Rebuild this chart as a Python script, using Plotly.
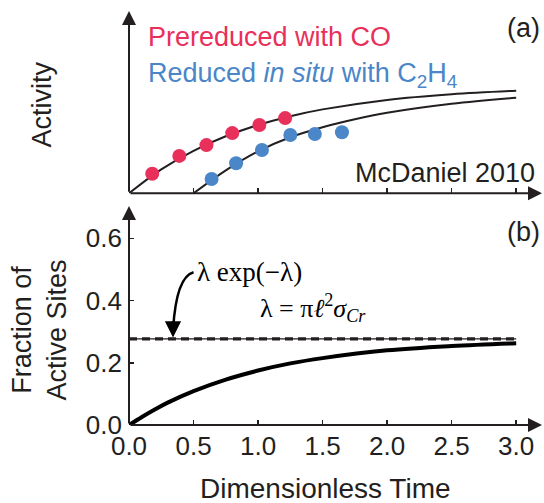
import plotly.graph_objects as go

# ---------------- data ----------------
red_x = [0.18, 0.39, 0.60, 0.80, 1.01, 1.21]
red_y = [19.5, 37.4, 48.2, 60.2, 68.3, 75.2]
blue_x = [0.64, 0.83, 1.03, 1.25, 1.44, 1.65]
blue_y = [14.3, 30.0, 43.3, 58.3, 59.3, 61.0]

upper_x = [0, 0.25, 0.5, 0.75, 1.0, 1.25, 1.5, 2.0, 2.5, 3.0]
upper_y = [0, 23.9, 42.5, 57.0, 68.3, 77.1, 83.9, 93.4, 99.1, 102.6]
lower_x = [0.5, 0.75, 1.0, 1.25, 1.5, 1.75, 2.0, 2.5, 3.0]
lower_y = [0, 23.0, 42.0, 56.0, 66.0, 74.0, 80.5, 89.5, 95.6]

frac_x = [0, 0.1, 0.2, 0.3, 0.5, 0.75, 1.0, 1.25, 1.5, 2.0, 2.5, 3.0]
frac_y = [0, 0.026, 0.050, 0.072, 0.109, 0.146, 0.175, 0.198, 0.215, 0.240, 0.254, 0.263]
level_x = [0, 3.0]
level_y = [0.277, 0.277]

x_ticks = [0, 0.5, 1.0, 1.5, 2.0, 2.5, 3.0]
x_tick_labels = ["0.0", "0.5", "1.0", "1.5", "2.0", "2.5", "3.0"]
y_ticks = [0, 0.2, 0.4, 0.6]
y_tick_labels = ["0.0", "0.2", "0.4", "0.6"]

RED = "#E8305A"
BLUE = "#4A86C8"
INK = "#231F20"
SANS = "Liberation Sans, Arial, sans-serif"
SERIF = "Liberation Serif, Times New Roman, serif"

fig = go.Figure()

# top panel
fig.add_trace(go.Scatter(x=upper_x, y=upper_y, mode="lines", line=dict(color=INK, width=2, shape="spline"),
                         xaxis="x2", yaxis="y2", cliponaxis=False))
fig.add_trace(go.Scatter(x=lower_x, y=lower_y, mode="lines", line=dict(color=INK, width=2, shape="spline"),
                         xaxis="x2", yaxis="y2", cliponaxis=False))
fig.add_trace(go.Scatter(x=red_x, y=red_y, mode="markers", marker=dict(color=RED, size=14),
                         xaxis="x2", yaxis="y2", cliponaxis=False))
fig.add_trace(go.Scatter(x=blue_x, y=blue_y, mode="markers", marker=dict(color=BLUE, size=14),
                         xaxis="x2", yaxis="y2", cliponaxis=False))

# bottom panel
fig.add_trace(go.Scatter(x=level_x, y=level_y, mode="lines", line=dict(color=INK, width=1.3),
                         xaxis="x", yaxis="y", cliponaxis=False))
fig.add_trace(go.Scatter(x=level_x, y=level_y, mode="lines", line=dict(color=INK, width=3.2, dash="8px,5px"),
                         xaxis="x", yaxis="y", cliponaxis=False))
fig.add_trace(go.Scatter(x=frac_x, y=frac_y, mode="lines", line=dict(color="black", width=4, shape="spline"),
                         xaxis="x", yaxis="y", cliponaxis=False))

XR = [0, 3.2]
tickfont = dict(family=SANS, size=26, color=INK)
fig.update_layout(
    width=544, height=503,
    margin=dict(l=128.6, r=1.6, t=11, b=78),
    paper_bgcolor="white", plot_bgcolor="white",
    showlegend=False,
    xaxis=dict(domain=[0, 1], range=XR, anchor="y", showgrid=False, zeroline=False, showline=False,
               tickvals=x_ticks, ticktext=x_tick_labels, ticks="inside", ticklen=5, tickwidth=1.5,
               tickcolor=INK, tickfont=tickfont, ticklabelstandoff=3),
    yaxis=dict(domain=[0, 0.529], range=[0, 0.704], anchor="x", showgrid=False, zeroline=False,
               showline=False, tickvals=y_ticks, ticktext=y_tick_labels, ticks="inside", ticklen=5,
               tickwidth=1.5, tickcolor=INK, tickfont=tickfont, ticklabelstandoff=6),
    xaxis2=dict(domain=[0, 1], range=XR, anchor="y2", showgrid=False, zeroline=False, showline=False,
                tickvals=x_ticks[1:], ticks="inside", ticklen=5, tickwidth=1.5, tickcolor=INK,
                showticklabels=False),
    yaxis2=dict(domain=[0.5597, 1], range=[0, 182.3], anchor="x2", showgrid=False, zeroline=False,
                showline=False, showticklabels=False),
)

ann = []
# axis arrows
def axis_arrow(xr, yr, x0, y0, x1, y1):
    return dict(xref=xr, yref=yr, axref=xr, ayref=yr, x=x1, y=y1, ax=x0, ay=y0, text="",
                showarrow=True, arrowhead=2, arrowsize=1.4, arrowwidth=2, arrowcolor=INK)

ann.append(axis_arrow("x", "y", 0, 0, 3.2, 0))
ann.append(axis_arrow("x", "y", 0, 0, 0, 0.704))
ann.append(axis_arrow("x2", "y2", 0, 0, 3.2, 0))
ann.append(axis_arrow("x2", "y2", 0, 0, 0, 182.3))

# curved arrow head
ann.append(dict(xref="x", yref="y", x=0.341, y=0.281, ax=0, ay=-18, text="", showarrow=True,
                arrowhead=2, arrowsize=1.3, arrowwidth=2.5, arrowcolor="black"))

def label(text, x, y, size=27, color=INK, xanchor="center", yanchor="middle", angle=0, family=SANS):
    return dict(xref="paper", yref="paper", x=x, y=y, text=text, showarrow=False,
                font=dict(family=family, size=size, color=color), xanchor=xanchor, yanchor=yanchor,
                textangle=angle)

ann.append(label("Activity", -0.2117, 0.773, angle=-90))
ann.append(label("Fraction of<br>Active Sites", -0.2165, 0.2295, angle=-90))
ann.append(label("Dimensionless Time", 0.4746, -0.153, size=28))
ann.append(label("(a)", 0.9555, 0.959))
ann.append(label("(b)", 0.9555, 0.466))
ann.append(label("McDaniel 2010", 0.989, 0.609, xanchor="right"))
ann.append(label("Prereduced with CO", 0.0423, 0.937, color=RED, xanchor="left"))
ann.append(label("Reduced <i>in situ</i> with C<sub>2</sub>H<sub>4</sub>", 0.0423, 0.845, color=BLUE,
                 xanchor="left"))
ann.append(label("λ exp(−λ)", 0.2916, 0.370, size=27, color="black", family=SERIF))
ann.append(label("λ = π<i>ℓ</i><sup>2</sup><i>σ</i><sub><i>Cr</i></sub>", 0.4455, 0.282, size=26,
                 color="black", family=SERIF))

fig.update_layout(annotations=ann)

fig.add_shape(type="path", xref="x", yref="y", path="M 0.50,0.491 Q 0.367,0.476 0.342,0.31",
              line=dict(color="black", width=2.5))

fig.write_html("out.html", config={"displayModeBar": False, "staticPlot": True})

# remove the browser's default page margin so the figure sits at the window's corner
with open("out.html", "r", encoding="utf-8") as f:
    html = f.read()
html = html.replace("<head>", "<head><style>html,body{margin:0;padding:0;overflow:hidden;}</style>", 1)
with open("out.html", "w", encoding="utf-8") as f:
    f.write(html)
